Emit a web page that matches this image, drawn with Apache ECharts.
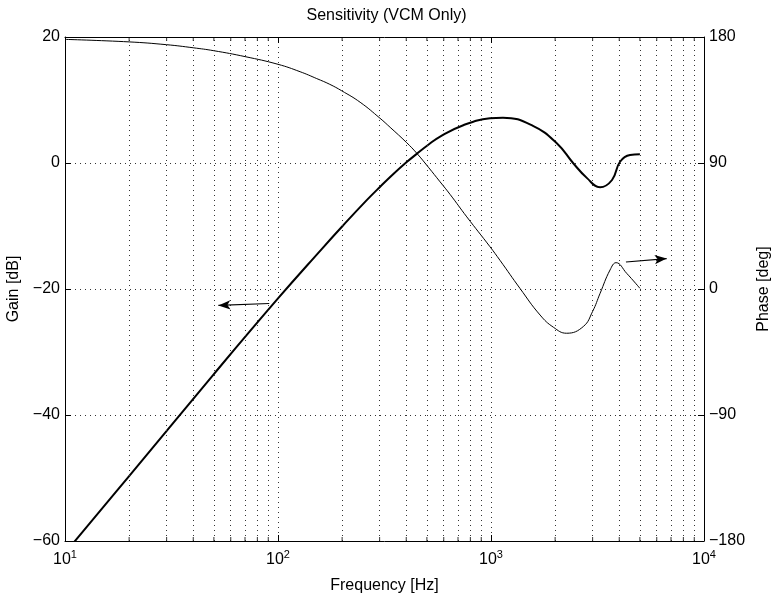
<!DOCTYPE html>
<html>
<head>
<meta charset="utf-8">
<title>Sensitivity (VCM Only)</title>
<script src="https://cdn.jsdelivr.net/npm/echarts@6/dist/echarts.min.js"></script>
<style>
  html, body { margin: 0; padding: 0; background: #fff; overflow: hidden; }
  #chart { width: 773px; height: 595px; }
</style>
</head>
<body>
<div id="chart"></div>
<script>
// Sensitivity gain (left axis, dB) sampled against frequency (Hz)
const gainFreq = [10, 20, 50, 100, 160, 201, 261, 301, 348, 402, 448, 508, 577, 741, 989, 1138, 1574, 2042, 2428, 2824, 3252, 3700, 4034, 4496, 5000];
const gainDb   = [-61.9, -49.7, -33.5, -21.5, -13.7, -10, -5.9, -3.8, -1.75, 0.15, 1.45, 2.9, 4.2, 6.0, 7.1, 7.2, 5.9, 3.1, 0, -2.4, -3.86, -2.7, 0.2, 1.27, 1.38];

// Sensitivity phase (right axis, deg) sampled against frequency (Hz)
const phaseFreq = [10, 20, 30, 40, 50, 70, 100, 127, 152, 175, 199, 243, 301, 336, 402, 448, 508, 577, 643, 770, 989, 1102, 1367, 1700, 1963, 2266, 2713, 3000, 3252, 3622, 3865, 4335, 5000];
const phaseDeg  = [178.3, 176.5, 174.5, 172.3, 170.2, 166, 160.5, 155.2, 150.3, 146.2, 141.6, 133.4, 122, 115.5, 104.5, 97, 87, 76.5, 67.5, 51.5, 30.2, 20.5, 0.5, -18.6, -27.3, -31.6, -26.8, -16, -3.1, 13.6, 18.8, 11.2, 0.5];

// Axis ticks
const freqRange = [10, 10000];
const minorFreqs = [20, 30, 40, 50, 60, 70, 80, 90, 200, 300, 400, 500, 600, 700, 800, 900, 2000, 3000, 4000, 5000, 6000, 7000, 8000, 9000];
const gainRange = [-60, 20];
const gainStep = 20;
const phaseRange = [-180, 180];
const phaseStep = 90;

// Annotation arrows pointing each curve to its axis: [freq, value] start and end
const gainArrow = [[91, -22.3], [52.5, -22.6]];
const phaseArrow = [[4300, 19.3], [6680, 21.7]];

const FONT = "'Liberation Sans', Arial, Helvetica, sans-serif";
const gridDots = { color: '#333', width: 1, type: [1, 4] };
const minus = v => (v < 0 ? '\u2212' + (-v) : String(v));

const chart = echarts.init(document.getElementById('chart'), null, { renderer: 'canvas' });

const axisLineStyle = { show: true, onZero: false, lineStyle: { color: '#000', width: 1 } };
const tickStyle = { show: true, inside: true, length: 6, lineStyle: { color: '#000' } };

// Short inward minor ticks along the bottom and top frame edges
const minorTickMarks = [
  ...minorFreqs.map(f => ({ value: [f, gainRange[0]], symbolOffset: [0, -2] })),
  ...minorFreqs.map(f => ({ value: [f, gainRange[1]], symbolOffset: [0, 2] }))
];

const option = {
  animation: false,
  backgroundColor: '#fff',
  title: {
    text: 'Sensitivity (VCM Only)',
    left: 'center',
    top: 3,
    textStyle: { fontFamily: FONT, fontSize: 16, fontWeight: 'normal', color: '#000' }
  },
  grid: { left: 65, right: 69, top: 37, bottom: 54, containLabel: false, outerBoundsMode: 'none' },
  xAxis: [
    {
      type: 'log', logBase: 10, min: freqRange[0], max: freqRange[1], position: 'bottom',
      name: 'Frequency [Hz]', nameLocation: 'middle', nameGap: 37,
      nameTextStyle: { fontFamily: FONT, fontSize: 16, color: '#000' },
      axisLine: axisLineStyle,
      axisTick: tickStyle,
      axisLabel: {
        color: '#000', margin: 8,
        formatter: v => '{b|10}{s|' + Math.round(Math.log10(v)) + '}',
        rich: {
          b: { fontFamily: FONT, fontSize: 16, color: '#000' },
          s: { fontFamily: FONT, fontSize: 11, color: '#000', padding: [0, 0, 10, 0] }
        }
      },
      splitLine: { show: true, lineStyle: gridDots },
      minorTick: { show: false },
      minorSplitLine: { show: false }
    },
    {
      type: 'log', logBase: 10, min: freqRange[0], max: freqRange[1], position: 'top',
      axisLine: axisLineStyle,
      axisTick: tickStyle,
      axisLabel: { show: false },
      splitLine: { show: false }
    }
  ],
  yAxis: [
    {
      type: 'value', min: gainRange[0], max: gainRange[1], interval: gainStep, position: 'left',
      name: 'Gain [dB]', nameLocation: 'middle', nameGap: 40,
      nameTextStyle: { fontFamily: FONT, fontSize: 16, color: '#000' },
      axisLine: axisLineStyle,
      axisTick: tickStyle,
      axisLabel: { fontFamily: FONT, fontSize: 16, color: '#000', margin: 5, formatter: minus },
      splitLine: { show: true, lineStyle: gridDots }
    },
    {
      type: 'value', min: phaseRange[0], max: phaseRange[1], interval: phaseStep, position: 'right',
      name: 'Phase [deg]', nameLocation: 'middle', nameGap: 50,
      nameTextStyle: { fontFamily: FONT, fontSize: 16, color: '#000' },
      axisLine: axisLineStyle,
      axisTick: tickStyle,
      axisLabel: { fontFamily: FONT, fontSize: 16, color: '#000', margin: 5, formatter: minus },
      splitLine: { show: false }
    }
  ],
  series: [
    {
      name: 'Gain',
      type: 'line',
      xAxisIndex: 0, yAxisIndex: 0,
      data: gainFreq.map((f, i) => [f, gainDb[i]]),
      showSymbol: false, smooth: 0.45, clip: true,
      lineStyle: { color: '#000', width: 2 },
      z: 3,
      markLine: {
        silent: true, symbol: ['none', 'none'], animation: false,
        label: { show: false },
        lineStyle: gridDots,
        data: minorFreqs.map(f => ({ xAxis: f }))
      }
    },
    {
      name: 'Gain arrow',
      type: 'line',
      xAxisIndex: 0, yAxisIndex: 0,
      data: [],
      markLine: {
        silent: true, symbol: ['none', 'arrow'], symbolSize: [7, 12], animation: false,
        label: { show: false },
        lineStyle: { color: '#000', width: 1.2, type: 'solid' },
        data: [[{ coord: gainArrow[0] }, { coord: gainArrow[1] }]]
      }
    },
    {
      name: 'Phase',
      type: 'line',
      xAxisIndex: 0, yAxisIndex: 1,
      data: phaseFreq.map((f, i) => [f, phaseDeg[i]]),
      showSymbol: false, smooth: 0.45, clip: true,
      lineStyle: { color: '#000', width: 1 },
      z: 3,
      markLine: {
        silent: true, symbol: ['none', 'arrow'], symbolSize: [7, 12], animation: false,
        label: { show: false },
        lineStyle: { color: '#000', width: 1.2, type: 'solid' },
        data: [[{ coord: phaseArrow[0] }, { coord: phaseArrow[1] }]]
      }
    },
    {
      name: 'Minor ticks',
      type: 'scatter',
      xAxisIndex: 0, yAxisIndex: 0,
      silent: true, clip: false,
      symbol: 'rect', symbolSize: [1, 4],
      itemStyle: { color: '#000' },
      data: minorTickMarks,
      z: 4
    }
  ]
};

chart.setOption(option);
</script>
</body>
</html>
